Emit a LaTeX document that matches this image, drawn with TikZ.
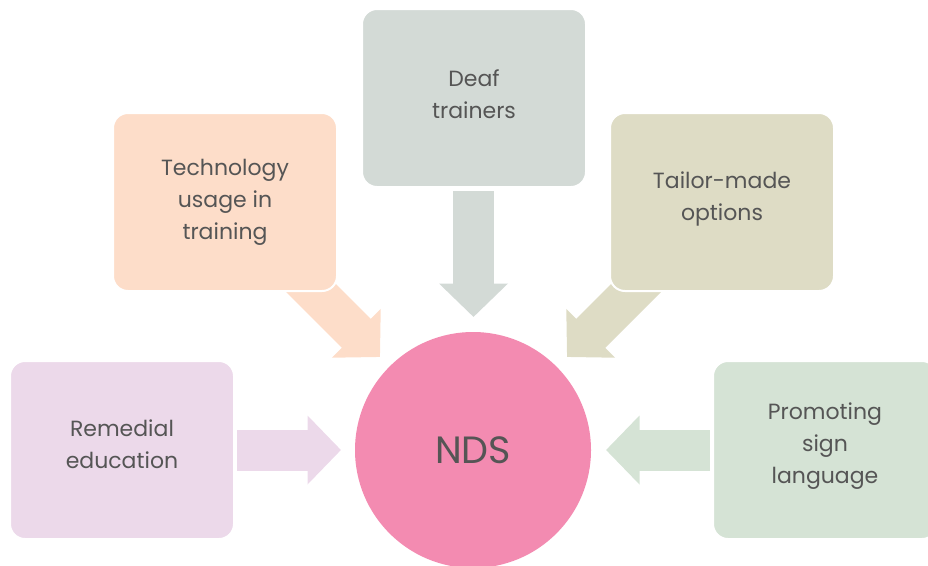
\documentclass[tikz,border=0pt]{standalone}
\usepackage{fontspec}
\setmainfont{Poppins}
\usetikzlibrary{arrows.meta,calc}
\definecolor{cDeaf}{HTML}{D3DAD6}
\definecolor{cTech}{HTML}{FDDDC9}
\definecolor{cTail}{HTML}{DEDCC5}
\definecolor{cRem}{HTML}{ECD9EA}
\definecolor{cProm}{HTML}{D5E3D5}
\definecolor{cNDS}{HTML}{F38BB1}
\definecolor{cTxt}{HTML}{555555}
\tikzset{
  boxnode/.style={rectangle, rounded corners=15pt, draw=white, line width=2pt,
    minimum width=224pt, minimum height=178pt, inner sep=0pt},
  boxtext/.style={align=center, text=cTxt, font=\fontsize{22}{32}\selectfont, inner sep=0pt},
  blockarrow/.style={line width=41pt, -{Triangle[width=67pt,length=33.5pt]}},
}
\begin{document}
\begin{tikzpicture}[x=1pt,y=-1pt]
\useasboundingbox (0,0) rectangle (928,565);
\clip (0,0) rectangle (928,565);
% arrow end points
\coordinate (dS) at (473.5,191);
\coordinate (dE) at (473.5,317);
\coordinate (lS) at (237,450);
\coordinate (lE) at (341,450);
\coordinate (rS) at (710,450);
\coordinate (rE) at (606,450);
\coordinate (tlS) at (290,267);
\coordinate (tlE) at (380,357);
\coordinate (trS) at (657,267);
\coordinate (trE) at (567,357);
% arrows
\draw[blockarrow, draw=cDeaf] (dS) -- (dE);
\draw[blockarrow, draw=cRem] (lS) -- (lE);
\draw[blockarrow, draw=cProm] (rS) -- (rE);
\draw[blockarrow, draw=cTech] (tlS) -- (tlE);
\draw[blockarrow, draw=cTail] (trS) -- (trE);
% boxes
\node[boxnode, fill=cDeaf] (deaf) at (474,98) {};
\node[boxnode, fill=cTech] (tech) at (225,202) {};
\node[boxnode, fill=cTail] (tail) at (722,202) {};
\node[boxnode, fill=cRem] (rem) at (122,450) {};
\node[boxnode, fill=cProm] (prom) at (825,450) {};
% circle
\node[circle, fill=cNDS, minimum size=236pt, inner sep=0pt] (nds) at (473,450) {};
% texts
\node[boxtext] (tdeaf) at ([yshift=4pt]deaf.center) {Deaf\\trainers};
\node[boxtext] (ttech) at ([yshift=0pt]tech.center) {Technology\\usage in\\training};
\node[boxtext] (ttail) at ([yshift=3pt]tail.center) {Tailor-made\\options};
\node[boxtext] (trem) at ([yshift=6pt]rem.center) {Remedial\\education};
\node[boxtext] (tprom) at ([yshift=4pt]prom.center) {Promoting\\sign\\language};
\node[text=cTxt, font=\fontsize{38}{42}\selectfont, inner sep=0pt] (tnds) at (nds.center) {NDS};
\end{tikzpicture}
\end{document}
